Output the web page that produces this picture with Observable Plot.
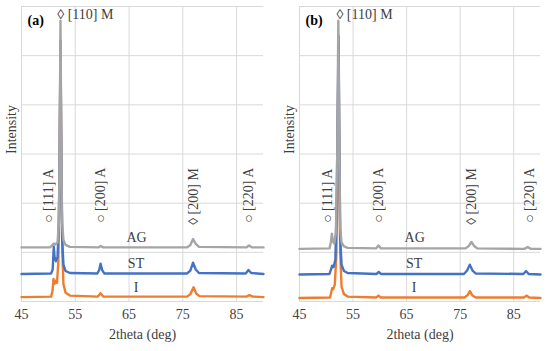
<!DOCTYPE html>
<html>
<head>
<meta charset="utf-8">
<script src="https://cdn.jsdelivr.net/npm/d3@7"></script>
<script src="https://cdn.jsdelivr.net/npm/@observablehq/plot@0.6"></script>
<style>
  html, body { margin: 0; padding: 0; background: #fff; }
  #wrap { display: flex; width: 550px; height: 351px; }
  #wrap > div { width: 275px; height: 351px; }
  #wrap svg, #wrap svg text { font-family: 'Liberation Serif', 'Times New Roman', serif !important; }
</style>
</head>
<body>
<div id="wrap"><div id="pa"></div><div id="pb"></div></div>
<script>
// ---------- data ----------
const xTicks = [45, 55, 65, 75, 85];
const yGrid = [0, 1, 2, 3, 4, 5, 6];
const seriesNames = ["I", "ST", "AG"];
const seriesColors = ["#ED7D31", "#4472C4", "#A5A5A5"];

// Panel (a): [2theta, intensity (arbitrary, offset)]
const aAG = [[45,1.10],[50.3,1.10],[50.8,1.15],[51.0,1.18],[51.3,1.16],[51.7,1.2],[51.95,1.6],[52.1,3.2],[52.25,5.71],[52.4,3.2],[52.55,1.6],[52.8,1.25],[53.2,1.15],[54,1.11],[59.3,1.10],[59.7,1.13],[60.2,1.10],[75.8,1.10],[76.4,1.15],[76.9,1.27],[77.4,1.17],[78.0,1.11],[86.8,1.10],[87.3,1.14],[87.9,1.10],[90,1.10]];
const aST = [[45,0.56],[50.5,0.57],[50.8,0.65],[51.0,1.12],[51.15,0.9],[51.4,0.82],[51.7,0.9],[51.95,1.6],[52.1,3.0],[52.25,5.3],[52.4,3.0],[52.55,1.3],[52.8,0.75],[53.2,0.62],[54,0.58],[59.1,0.57],[59.45,0.64],[59.7,0.77],[60.0,0.64],[60.4,0.57],[75.8,0.57],[76.4,0.63],[76.9,0.79],[77.4,0.65],[78.0,0.58],[86.7,0.57],[87.2,0.64],[87.7,0.58],[90,0.56]];
const aI = [[45,0.09],[50.5,0.10],[50.75,0.2],[50.95,0.46],[51.15,0.36],[51.35,0.42],[51.6,0.38],[51.85,0.8],[52.05,2.5],[52.25,5.0],[52.45,2.5],[52.6,1.0],[52.8,0.35],[53.2,0.18],[54,0.12],[59.2,0.10],[59.7,0.17],[60.2,0.10],[75.8,0.10],[76.4,0.15],[77.0,0.29],[77.5,0.16],[78.1,0.11],[86.8,0.10],[87.4,0.13],[88.0,0.10],[90,0.09]];

// Panel (b)
const bAG = [[45,1.07],[50.6,1.08],[50.85,1.2],[51.05,1.38],[51.25,1.22],[51.5,1.18],[51.8,1.4],[52.05,3.0],[52.25,5.71],[52.45,3.0],[52.6,1.5],[52.85,1.2],[53.3,1.12],[54,1.09],[59.3,1.08],[59.75,1.14],[60.2,1.08],[76.0,1.08],[76.6,1.13],[77.1,1.21],[77.6,1.13],[78.2,1.08],[87.0,1.07],[87.6,1.11],[88.2,1.07],[90,1.07]];
const bST = [[45,0.55],[50.6,0.56],[50.9,0.66],[51.1,0.73],[51.35,0.7],[51.7,0.85],[51.95,2.0],[52.15,4.0],[52.3,5.4],[52.45,3.0],[52.6,1.3],[52.85,0.75],[53.3,0.62],[54,0.58],[59.4,0.56],[59.8,0.60],[60.2,0.56],[75.7,0.56],[76.3,0.63],[76.8,0.75],[77.3,0.63],[77.9,0.57],[86.8,0.56],[87.3,0.62],[87.8,0.56],[90,0.55]];
const bI = [[45,0.07],[50.7,0.08],[50.95,0.2],[51.1,0.27],[51.3,0.25],[51.6,0.35],[51.9,1.0],[52.1,3.0],[52.3,5.2],[52.45,2.5],[52.6,1.0],[52.85,0.3],[53.3,0.15],[54,0.1],[59.3,0.08],[59.75,0.12],[60.2,0.08],[75.8,0.08],[76.4,0.13],[76.8,0.21],[77.3,0.12],[77.9,0.08],[86.9,0.08],[87.4,0.12],[87.9,0.08],[90,0.07]];

// Series labels: [x, y, text]
const aSeriesLabels = [[66.4,1.30,"AG"],[66.3,0.78,"ST"],[66.3,0.29,"I"]];
const bSeriesLabels = [[66.5,1.30,"AG"],[66.4,0.78,"ST"],[66.4,0.29,"I"]];

// Peak annotations (vertical): [x, y(bottom), text]
const aPeakLabels = [[50.0,1.6,"○ [111] A"],[59.7,1.6,"○ [200] A"],[76.9,1.56,"◊ [200] M"],[87.3,1.6,"○ [220] A"]];
const bPeakLabels = [[50.3,1.6,"○ [111] A"],[59.8,1.6,"○ [200] A"],[77.2,1.56,"◊ [200] M"],[87.9,1.6,"○ [220] A"]];
// Top annotation: [x, y, text]
const aTopLabel = [[51.65,5.83,"◊ [110] M"]];
const bTopLabel = [[51.9,5.83,"◊ [110] M"]];
const panelTags = ["(a)", "(b)"];

const FONT = "'Liberation Serif', 'Times New Roman', serif";

function panel(series, seriesLabels, peakLabels, topLabel, tag, mLeft, mRight) {
  const marks = [
    Plot.gridY(yGrid, {stroke: "#D9D9D9", strokeOpacity: 1, strokeWidth: 1}),
    Plot.gridX(xTicks, {stroke: "#D9D9D9", strokeOpacity: 1, strokeWidth: 1}),
    Plot.axisX(xTicks, {tickSize: 0, tickPadding: 8, fontSize: 14, fontFamily: FONT, fill: "#404040", label: null})
  ];
  series.forEach((s, i) => {
    marks.push(Plot.line(s, {x: d => d[0], y: d => d[1], stroke: seriesColors[i], strokeWidth: 2.4, strokeLinejoin: "round"}));
  });
  marks.push(
    Plot.text(seriesLabels, {x: d => d[0], y: d => d[1], text: d => d[2], fontSize: 14, fontFamily: FONT, fill: "#404040"}),
    Plot.text(peakLabels, {x: d => d[0], y: d => d[1], text: d => d[2], rotate: -90, textAnchor: "start", fontSize: 14, fontFamily: FONT, fill: "#404040"}),
    Plot.text(topLabel, {x: d => d[0], y: d => d[1], text: d => d[2], textAnchor: "start", fontSize: 14, fontFamily: FONT, fill: "#404040"}),
    Plot.text([tag], {frameAnchor: "top-left", text: d => d, dx: 6, dy: 9, fontSize: 14, fontWeight: "bold", fontFamily: FONT, fill: "#000"}),
    Plot.text(["Intensity"], {frameAnchor: "left", text: d => d, rotate: -90, dx: -10, fontSize: 14, fontFamily: FONT, fill: "#404040"}),
    Plot.text(["2theta (deg)"], {frameAnchor: "bottom", text: d => d, dy: 37, fontSize: 14, fontFamily: FONT, fill: "#404040"})
  );
  return Plot.plot({
    width: 275,
    height: 351,
    marginTop: 6,
    marginBottom: 50,
    marginLeft: mLeft,
    marginRight: mRight,
    style: {fontFamily: FONT, fontSize: "14px", background: "#fff", overflow: "visible"},
    x: {domain: [45, 90]},
    y: {domain: [0, 6], axis: null},
    marks
  });
}

document.getElementById("pa").appendChild(panel([aI, aST, aAG], aSeriesLabels, aPeakLabels, aTopLabel, panelTags[0], 21, 12));
document.getElementById("pb").appendChild(panel([bI, bST, bAG], bSeriesLabels, bPeakLabels, bTopLabel, panelTags[1], 24, 10));
</script>
</body>
</html>
